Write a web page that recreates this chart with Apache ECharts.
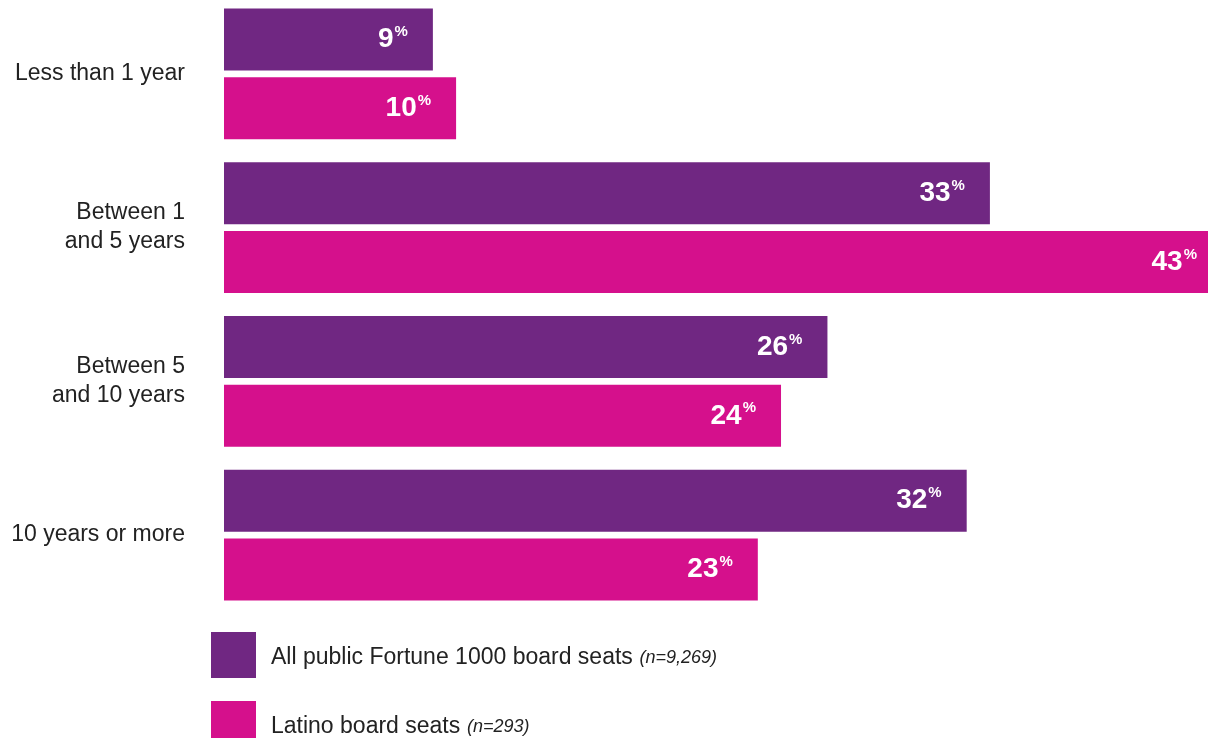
<!DOCTYPE html>
<html>
<head>
<meta charset="utf-8">
<script src="https://cdn.jsdelivr.net/npm/echarts@6/dist/echarts.min.js"></script>
<style>
  html, body { margin: 0; padding: 0; background: #fff; }
  #chart { width: 1208px; height: 738px; }
</style>
</head>
<body>
<div id="chart"></div>
<script>
const categories = ['Less than 1 year', 'Between 1\nand 5 years', 'Between 5\nand 10 years', '10 years or more'];
const allSeats = [9, 33, 26, 32];
const latinoSeats = [10, 43, 24, 23];
const seriesNames = ['All public Fortune 1000 board seats', 'Latino board seats'];
const sampleSizes = ['(n=9,269)', '(n=293)'];

const chart = echarts.init(document.getElementById('chart'));
const font = 'Liberation Sans';

const barLabel = {
    show: true,
    position: 'insideRight',
    distance: 25,
    formatter: function (p) {
        return '{n|' + p.value + '}{p|%}';
    },
    rich: {
        n: { fontSize: 28, fontWeight: 'bold', color: '#fff', fontFamily: font, lineHeight: 30 },
        p: { fontSize: 15, fontWeight: 'bold', color: '#fff', fontFamily: font, verticalAlign: 'top', lineHeight: 30, padding: [0, 0, 14, 1] }
    }
};

function legendFor(i, top) {
    return {
        orient: 'vertical',
        left: 211,
        top: top,
        padding: 0,
        itemWidth: 45,
        itemHeight: 46,
        icon: 'rect',
        data: [seriesNames[i]],
        formatter: function (name) {
            return '{t|' + name + '}  {s|' + sampleSizes[i] + '}';
        },
        textStyle: {
            padding: [5, 0, 0, 10],
            rich: {
                t: { fontSize: 23, color: '#222', fontFamily: font },
                s: { fontSize: 18, color: '#222', fontStyle: 'italic', fontFamily: font }
            }
        }
    };
}

chart.setOption({
    animation: false,
    grid: { left: 224, width: 998, top: -3, height: 615, outerBoundsMode: 'none' },
    xAxis: { type: 'value', min: 0, max: 43, show: false },
    yAxis: {
        type: 'category',
        data: categories,
        inverse: true,
        axisLine: { show: false },
        axisTick: { show: false },
        axisLabel: {
            margin: 39,
            color: '#222',
            fontSize: 23,
            lineHeight: 29,
            fontFamily: font,
            align: 'right',
            padding: [9, 0, 0, 0]
        }
    },
    legend: [legendFor(0, 632), legendFor(1, 701)],
    series: [
        {
            name: seriesNames[0],
            type: 'bar',
            data: allSeats,
            barWidth: 62,
            barGap: '11%',
            itemStyle: { color: '#702782' },
            label: barLabel
        },
        {
            name: seriesNames[1],
            type: 'bar',
            data: latinoSeats,
            barWidth: 62,
            barGap: '11%',
            itemStyle: { color: '#D5108C' },
            label: barLabel
        }
    ]
});
</script>
</body>
</html>
